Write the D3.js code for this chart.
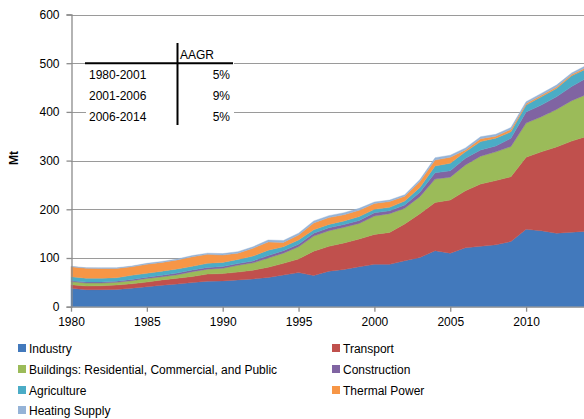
<!DOCTYPE html>
<html>
<head>
<meta charset="utf-8">
<script src="https://cdn.jsdelivr.net/npm/d3@7"></script>
<style>
  html, body { margin: 0; padding: 0; background: #fff; }
  svg { display: block; font-family: "Liberation Sans", Arial, sans-serif; }
</style>
</head>
<body>
<svg id="chart" width="584" height="419"></svg>
<script>
// Emissions by sector, Mt, 1980-2014
const years = d3.range(1980, 2015);
const seriesNames = ["Industry", "Transport", "Buildings: Residential, Commercial, and Public",
  "Construction", "Agriculture", "Thermal Power", "Heating Supply"];
const industry = [38,35,35,35.5,38,41,44,46.5,49.5,52.5, 53,55,57,60,65,70,
  64,73,76.5,82,87,87,94.5,101,115,110, 121,124,127,134,159,156,151,153,155];
const transport = [7,7.5,8,9,9,9.5,11,12,12.5,14.5, 15,16,18,21,24,28,
  50,51,54.5,57,61.5,65.5,75.5,90,99,109, 117,128,132,133,148,162,177,187,195];
const buildings = [6.5,6,5.5,5.5,6.5,7.5,6.5,7,10,10, 11,14,15,19,21,25,
  31,32,32,32,37.5,38.5,32,35,48,47, 53,57,59,62,70,72,77,83,86];
const construction = [2,2,2,2.5,2.5,2.5,3,3.5,3.5,3.5, 3.5,3.5,4,5,5,5,
  6,6,6,6,7,6,7,9,13,13, 14,13,12,17,23,24,26,29,34];
const agriculture = [8,8,8,7,8.5,8,8.5,8.5,7.5,8.5, 8.5,8.5,10,11,8,9,
  7,7,7,8,7,7,8,10,14,15.5, 13,17,16,13,14,17,17,22,19];
const thermalPower = [20.5,20.5,20,19,17.5,18.5,18,18.5,19.5,18.5, 15,13,16,17,9,10,
  14,14,13,13,12,12,10,12,12,12.5, 4,6,4,5,3,3,3,3,3];
const heatingSupply = [1,1,1.5,1.5,1.5,2,2,2,2.5,2.5, 3,3,3,4,4,4,
  4,4,4,4,3,3,3,4,5,4, 4,4,4,4,4,4,4,3,4];
const seriesValues = [industry, transport, buildings, construction, agriculture, thermalPower, heatingSupply];
const colors = ["#4279BC", "#C0504D", "#9BBB59", "#8064A2", "#4BACC6", "#F79646", "#95B3D7"];

const yTicks = [0, 100, 200, 300, 400, 500, 600];
const xTicks = [1980, 1985, 1990, 1995, 2000, 2005, 2010];

// Growth table
const aagrHeader = "AAGR";
const aagrPeriods = ["1980-2001", "2001-2006", "2006-2014"];
const aagrRates = ["5%", "9%", "5%"];

// Rows for the stack
const rows = years.map((yr, i) => {
  const r = { year: yr };
  seriesNames.forEach((n, k) => r[n] = seriesValues[k][i]);
  return r;
});

const svg = d3.select("#chart");
const plotLeft = 71, plotTop = 14.5, plotBottom = 306.7, plotRight = 584;
const x = d3.scaleLinear().domain([1980, 1990]).range([plotLeft, plotLeft + 151.7]);
const y = d3.scaleLinear().domain([0, 600]).range([plotBottom, plotTop]);

// Gridlines
svg.append("g").selectAll("line").data(yTicks.filter(d => d > 0)).join("line")
  .attr("x1", plotLeft).attr("x2", plotRight)
  .attr("y1", d => Math.round(y(d)) + 0.5).attr("y2", d => Math.round(y(d)) + 0.5)
  .attr("stroke", "#9a9a9a").attr("stroke-width", 1.2);

// Stacked areas
const stack = d3.stack().keys(seriesNames);
const layers = stack(rows);
const area = d3.area()
  .x(d => x(d.data.year))
  .y0(d => y(d[0]))
  .y1(d => y(d[1]));
svg.append("g").selectAll("path").data(layers).join("path")
  .attr("d", area)
  .attr("fill", (d, i) => colors[i])
  .attr("stroke", (d, i) => colors[i])
  .attr("stroke-width", 0.4);

// Y axis
const yAxis = svg.append("g").attr("transform", `translate(${plotLeft + 0.5},0)`)
  .call(d3.axisLeft(y).tickValues(yTicks).tickSize(5).tickPadding(7));
yAxis.select(".domain").attr("stroke", "#8c8c8c").attr("stroke-width", 1.3);
yAxis.selectAll(".tick line").attr("stroke", "#8c8c8c").attr("stroke-width", 1.3);
yAxis.selectAll(".tick text").attr("font-size", 12).attr("fill", "#000")
  .attr("font-family", "Liberation Sans, Arial, sans-serif");

// X axis
const xAxis = svg.append("g").attr("transform", `translate(0,${plotBottom})`)
  .call(d3.axisBottom(x).tickValues(xTicks).tickFormat(d3.format("d")).tickSize(5).tickPadding(6).tickSizeOuter(0));
xAxis.select(".domain").attr("stroke", "#8c8c8c").attr("stroke-width", 1.3)
  .attr("d", `M${plotLeft},0.5H${plotRight}`);
xAxis.selectAll(".tick line").attr("stroke", "#8c8c8c").attr("stroke-width", 1.3);
xAxis.selectAll(".tick text").attr("font-size", 12).attr("fill", "#000")
  .attr("font-family", "Liberation Sans, Arial, sans-serif");

// Y axis title
svg.append("text")
  .attr("transform", "translate(18,158) rotate(-90)")
  .attr("text-anchor", "middle")
  .attr("font-size", 12).attr("font-weight", "bold")
  .text("Mt");

// Growth table
const tbl = svg.append("g");
tbl.append("rect").attr("x", 86).attr("y", 40).attr("width", 148).attr("height", 87).attr("fill", "#fff");
tbl.append("line").attr("x1", 85).attr("x2", 233).attr("y1", 63.3).attr("y2", 63.3)
  .attr("stroke", "#000").attr("stroke-width", 2);
tbl.append("line").attr("x1", 177.5).attr("x2", 177.5).attr("y1", 43).attr("y2", 125)
  .attr("stroke", "#000").attr("stroke-width", 2);
tbl.append("text").attr("x", 180).attr("y", 59).attr("font-size", 12).text(aagrHeader);
tbl.selectAll("text.period").data(aagrPeriods).join("text").attr("class", "period")
  .attr("x", 89).attr("y", (d, i) => 79 + i * 21).attr("font-size", 12).text(d => d);
tbl.selectAll("text.rate").data(aagrRates).join("text").attr("class", "rate")
  .attr("x", 230).attr("y", (d, i) => 79 + i * 21).attr("text-anchor", "end")
  .attr("font-size", 12).text(d => d);

// Legend
const legendPos = [[18, 349], [332, 349], [18, 370], [332, 370], [18, 391], [332, 391], [18, 411]];
const leg = svg.append("g").selectAll("g").data(seriesNames).join("g")
  .attr("transform", (d, i) => `translate(${legendPos[i][0]},${legendPos[i][1]})`);
leg.append("rect").attr("x", 0).attr("y", -5).attr("width", 8).attr("height", 8)
  .attr("fill", (d, i) => colors[i]);
leg.append("text").attr("x", 11).attr("y", 0).attr("dy", "0.35em")
  .attr("font-size", 12).attr("fill", "#000").text(d => d);
</script>
</body>
</html>
